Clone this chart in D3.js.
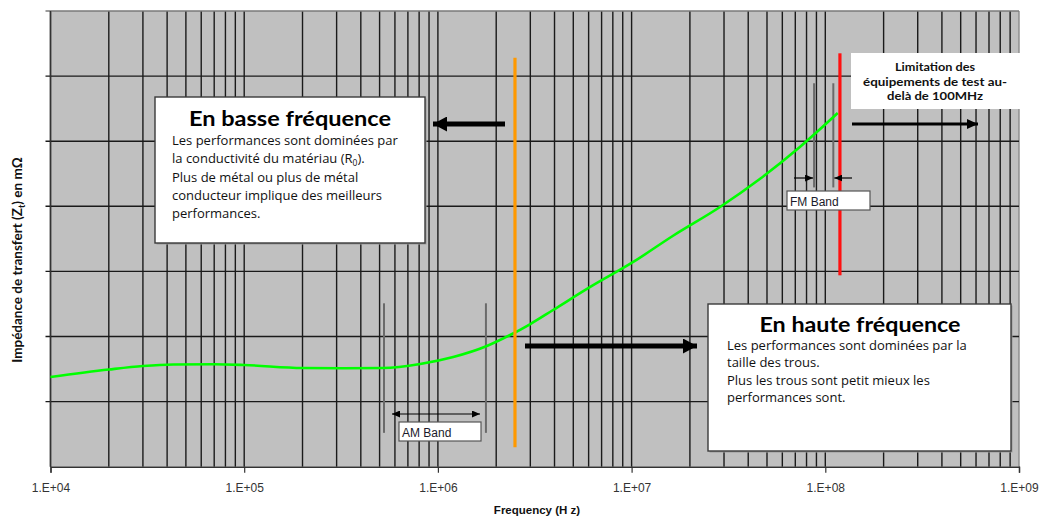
<!DOCTYPE html>
<html><head><meta charset="utf-8">
<script src="https://cdn.jsdelivr.net/npm/d3@7"></script>
<style>
html,body{margin:0;padding:0;background:#fff;}
svg{display:block;}
</style></head>
<body>
<svg id="chart" width="1048" height="520"></svg>
<script>
// ---- data ----
const freqs = [1e4, 2e4, 3e4, 4.3e4, 7e4, 1e5, 2e5, 3.24e5, 5.2e5, 8.1e5, 1.2e6, 1.79e6, 2.36e6, 3e6, 3.93e6, 6.24e6, 1.02e7, 1.63e7, 2.86e7, 4.59e7, 7.39e7, 1.16e8];
const impedance = [1.378, 1.493, 1.547, 1.570, 1.573, 1.562, 1.516, 1.512, 1.516, 1.578, 1.685, 1.854, 2.023, 2.192, 2.407, 2.776, 3.145, 3.544, 3.989, 4.419, 4.911, 5.433];
const xTickValues = [1e4, 1e5, 1e6, 1e7, 1e8, 1e9];
const xTickLabels = ["1.E+04", "1.E+05", "1.E+06", "1.E+07", "1.E+08", "1.E+09"];
const yGridValues = [1, 2, 3, 4, 5, 6, 7];
// vertical markers: [freq, yFrom, yTo]
const orangeLine = [2.5e6, 0.30, 6.28];
const redLine = [1.19e8, 2.94, 6.35];
const amBand = [5.27e5, 1.77e6];   // band edges (Hz)
const amBandY = [0.52, 2.51];
const fmBand = [8.75e7, 1.1e8];
const fmBandY = [4.29, 5.89];

const svg = d3.select("#chart");
const x = d3.scaleLog().domain([1e4, 1e9]).range([50.5, 1019]);
const y = d3.scaleLinear().domain([0, 7]).range([466.7, 11]);

// plot background
svg.append("rect").attr("x", x(1e4)).attr("y", y(7)).attr("width", x(1e9) - x(1e4)).attr("height", y(0) - y(7))
  .attr("fill", "#c0c0c0");

// vertical grid (log)
const gridX = [];
for (let d = 4; d < 9; d++) for (let k = 1; k <= 9; k++) gridX.push(k * Math.pow(10, d));
gridX.push(1e9);
svg.append("g").selectAll("line").data(gridX).join("line")
  .attr("x1", d => x(d)).attr("x2", d => x(d)).attr("y1", y(0)).attr("y2", y(7))
  .attr("stroke", d => d === 1e9 ? "#8a8a8a" : "#1a1a1a").attr("stroke-width", 1.4);

// horizontal grid + left ticks
svg.append("g").selectAll("line").data(yGridValues).join("line")
  .attr("x1", x(1e4) - 5).attr("x2", x(1e9)).attr("y1", d => y(d)).attr("y2", d => y(d))
  .attr("stroke", d => d === 7 ? "#7a7a7a" : "#1a1a1a").attr("stroke-width", 1.4);

// x axis
const xAxis = d3.axisBottom(x).tickValues(xTickValues).tickSize(6)
  .tickFormat((d, i) => xTickLabels[i]);
const gx = svg.append("g").attr("transform", `translate(0,${y(0)})`).call(xAxis);
gx.select(".domain").attr("stroke", "#333").attr("stroke-width", 1.4);
gx.selectAll(".tick line").attr("stroke", "#333").attr("stroke-width", 1.2);
gx.selectAll(".tick text").attr("font-family", "Liberation Sans, Arial, sans-serif")
  .attr("font-size", 12).attr("fill", "#333").attr("dy", 0).attr("y", 25.5);

// left axis line
svg.append("line").attr("x1", x(1e4)).attr("x2", x(1e4)).attr("y1", y(0)).attr("y2", y(7))
  .attr("stroke", "#333").attr("stroke-width", 1.4);

// axis titles
svg.append("text").attr("x", 537).attr("y", 514).attr("text-anchor", "middle")
  .attr("font-family", "Liberation Sans, Arial, sans-serif").attr("font-weight", "bold").attr("font-size", 11.5)
  .attr("fill", "#111").text("Frequency (H z)");
const yt = svg.append("text").attr("transform", "translate(22,260) rotate(-90)").attr("text-anchor", "middle")
  .attr("font-family", "Lato, 'Open Sans', sans-serif").attr("font-weight", "bold").attr("font-size", 13.5).attr("fill", "#111");
yt.append("tspan").text("Impédance de transfert (Z");
yt.append("tspan").attr("font-size", 9).attr("dy", 3).text("t");
yt.append("tspan").attr("dy", -3).text(") en mΩ");

// markers
const defs = svg.append("defs");
function head(id, w, h) {
  defs.append("marker").attr("id", id).attr("viewBox", `0 0 ${w} ${h}`).attr("refX", w).attr("refY", h / 2)
    .attr("markerWidth", w).attr("markerHeight", h).attr("markerUnits", "userSpaceOnUse").attr("orient", "auto-start-reverse")
    .append("path").attr("d", `M0,0 L${w},${h / 2} L0,${h} Z`).attr("fill", "#000");
}
head("bigHead", 14, 15);
head("midHead", 11, 10);
head("smallHead", 8, 7);

// AM band lines
svg.append("g").selectAll("line").data(amBand).join("line")
  .attr("x1", d => x(d)).attr("x2", d => x(d)).attr("y1", y(amBandY[0])).attr("y2", y(amBandY[1]))
  .attr("stroke", "#6a6a6a").attr("stroke-width", 2);
// FM band lines
svg.append("g").selectAll("line").data(fmBand).join("line")
  .attr("x1", d => x(d)).attr("x2", d => x(d)).attr("y1", y(fmBandY[0])).attr("y2", y(fmBandY[1]))
  .attr("stroke", "#6a6a6a").attr("stroke-width", 2);

// curve
const line = d3.line().x((d, i) => x(freqs[i])).y(d => y(d)).curve(d3.curveMonotoneX);
svg.append("path").datum(impedance).attr("d", line).attr("fill", "none")
  .attr("stroke", "#00ff00").attr("stroke-width", 2.6);

// orange and red lines
svg.append("line").attr("x1", x(orangeLine[0])).attr("x2", x(orangeLine[0]))
  .attr("y1", y(orangeLine[1])).attr("y2", y(orangeLine[2])).attr("stroke", "#ff9900").attr("stroke-width", 3.2);
svg.append("line").attr("x1", x(redLine[0])).attr("x2", x(redLine[0]))
  .attr("y1", y(redLine[1])).attr("y2", y(redLine[2])).attr("stroke", "#ff1010").attr("stroke-width", 3.2);

// AM double arrow
svg.append("line").attr("x1", 392).attr("x2", 480).attr("y1", 414).attr("y2", 414)
  .attr("stroke", "#000").attr("stroke-width", 1.2)
  .attr("marker-start", "url(#smallHead)").attr("marker-end", "url(#smallHead)");
// FM arrows
svg.append("line").attr("x1", 794).attr("x2", x(fmBand[0]) - 1).attr("y1", 178).attr("y2", 178)
  .attr("stroke", "#000").attr("stroke-width", 1.2).attr("marker-end", "url(#smallHead)");
svg.append("line").attr("x1", 852).attr("x2", x(fmBand[1]) + 1).attr("y1", 178).attr("y2", 178)
  .attr("stroke", "#000").attr("stroke-width", 1.2).attr("marker-end", "url(#smallHead)");

// big arrows
svg.append("line").attr("x1", 505).attr("x2", 433).attr("y1", 124).attr("y2", 124)
  .attr("stroke", "#000").attr("stroke-width", 5).attr("marker-end", "url(#bigHead)");
svg.append("line").attr("x1", 525).attr("x2", 697).attr("y1", 346).attr("y2", 346)
  .attr("stroke", "#000").attr("stroke-width", 5).attr("marker-end", "url(#bigHead)");
svg.append("line").attr("x1", 852).attr("x2", 978).attr("y1", 124).attr("y2", 124)
  .attr("stroke", "#000").attr("stroke-width", 3).attr("marker-end", "url(#midHead)");

// label boxes
function labelBox(x0, y0, w, h, txt, tx, ty) {
  svg.append("rect").attr("x", x0).attr("y", y0).attr("width", w).attr("height", h)
    .attr("fill", "#fff").attr("stroke", "#555").attr("stroke-width", 1.2);
  svg.append("text").attr("x", tx).attr("y", ty).attr("font-family", "Liberation Sans, Arial, sans-serif")
    .attr("font-size", 12).attr("fill", "#1a1a2a").text(txt);
}
labelBox(399, 422, 82, 19, "AM Band", 402, 437);
labelBox(787, 191, 83, 19, "FM Band", 790, 206);

// Limitation box
svg.append("rect").attr("x", 851).attr("y", 53).attr("width", 169).attr("height", 56).attr("fill", "#fff");
const lim = ["Limitation des", "équipements de test au-", "delà de 100MHz"];
const limW = [80, 144, 96];
svg.append("g").selectAll("text").data(lim).join("text")
  .attr("x", 935).attr("y", (d, i) => 71 + i * 14.5).attr("text-anchor", "middle")
  .attr("textLength", (d, i) => limW[i]).attr("lengthAdjust", "spacingAndGlyphs")
  .attr("font-family", "Lato, 'Open Sans', sans-serif").attr("font-weight", "bold").attr("font-size", 11.5)
  .attr("fill", "#111").text(d => d);

// text boxes
function infoBox(x0, y0, w, h, title, titleX, titleY, titleW, lines, lx, ly0, lh) {
  svg.append("rect").attr("x", x0 + 1.5).attr("y", y0 + 1.5).attr("width", w).attr("height", h).attr("fill", "#9a9a9a");
  svg.append("rect").attr("x", x0).attr("y", y0).attr("width", w).attr("height", h)
    .attr("fill", "#fff").attr("stroke", "#3a3a3a").attr("stroke-width", 1.4);
  svg.append("text").attr("x", titleX).attr("y", titleY).attr("text-anchor", "middle")
    .attr("textLength", titleW).attr("lengthAdjust", "spacingAndGlyphs")
    .attr("font-family", "Lato, 'Open Sans', sans-serif").attr("font-weight", "bold").attr("font-size", 21)
    .attr("fill", "#000").text(title);
  lines.forEach((l, i) => {
    const t = svg.append("text").attr("x", lx).attr("y", ly0 + i * lh)
      .attr("font-family", "'Open Sans', Lato, sans-serif").attr("font-size", 13).attr("fill", "#111");
    if (Array.isArray(l)) {
      t.append("tspan").text(l[0]);
      t.append("tspan").attr("font-size", 8.5).attr("dy", 3).text(l[1]);
      t.append("tspan").attr("dy", -3).text(l[2]);
    } else t.text(l);
  });
}
infoBox(155, 97, 270, 146, "En basse fréquence", 290, 126, 202,
  ["Les performances sont dominées par", ["la conductivité du matériau (R", "0", ")."], "Plus de métal ou plus de métal",
   "conducteur implique des meilleurs", "performances."], 172, 145, 18.3);
infoBox(708, 304, 303, 147, "En haute fréquence", 860, 332, 201,
  ["Les performances sont dominées par la", "taille des trous.", "Plus les trous sont petit mieux les",
   "performances sont."], 727, 350, 17.4);
</script>
</body></html>
